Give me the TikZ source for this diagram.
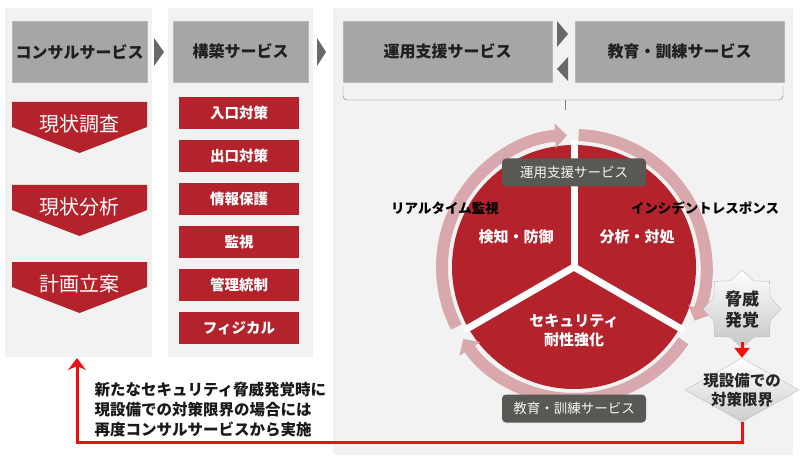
\documentclass[tikz,border=0pt]{standalone}
\usepackage{fontspec}
\setmainfont{Noto Sans CJK JP}
\usetikzlibrary{shapes.geometric,arrows.meta}

\definecolor{panelgray}{RGB}{242,242,242}
\definecolor{headgray}{RGB}{166,166,166}
\definecolor{stepgray}{RGB}{105,105,105}
\definecolor{secred}{RGB}{180,34,44}
\definecolor{ringpink}{RGB}{217,168,172}
\definecolor{darkbox}{RGB}{88,88,84}
\definecolor{alertred}{RGB}{240,16,16}

\begin{document}
\begin{tikzpicture}[x=1pt, y=-1pt,
    panel/.style={fill=panelgray, anchor=north west, inner sep=0pt},
    header/.style={fill=headgray, draw=gray!55, anchor=north west, minimum height=61,
        font=\fontsize{16}{18}\selectfont\bfseries, text=black!88},
    steptext/.style={text=white, font=\fontsize{20}{22}\selectfont},
    measure/.style={fill=secred, minimum width=120, minimum height=32, text=white,
        font=\fontsize{14.5}{16}\selectfont\bfseries},
    ring/.style={draw=ringpink, line width=12, -{Triangle[width=24pt,length=12pt]}},
    darklabel/.style={fill=darkbox, rounded corners=4, minimum width=144, minimum height=28,
        text=white!92!gray, font=\fontsize{13.5}{15}\selectfont},
    phase/.style={text=black, font=\fontsize{13.5}{15}\selectfont\bfseries},
    inner/.style={text=white, align=center, font=\fontsize{15}{19}\selectfont\bfseries},
    signtext/.style={text=black!85, align=center, font=\fontsize{15.5}{19}\selectfont\bfseries},
    alert/.style={draw=alertred, line width=3, -{Triangle[width=15pt,length=10pt]}},
    escalate/.style={draw=alertred, line width=3, -{Stealth[width=18pt,length=12pt,inset=4pt]}},
]
    \useasboundingbox (0,0) rectangle (800,465);

    % Panels
    \node[panel, minimum width=147, minimum height=349] (pconsult) at (5,8) {};
    \node[panel, minimum width=145, minimum height=349] (pbuild) at (168,8) {};
    \node[panel, minimum width=460, minimum height=447] (pops) at (333,8) {};

    % Service headers
    \node[header, minimum width=135] (consult) at (12,21) {コンサルサービス};
    \node[header, minimum width=135] (build) at (173,21) {構築サービス};
    \node[header, minimum width=209] (operate) at (343,21) {運用支援サービス};
    \node[header, minimum width=209] (educate) at (575,21) {教育・訓練サービス};

    % Step arrows
    \fill[stepgray] (154,38) -- (164,52) -- (154,66) -- cycle;
    \fill[stepgray] (317,38) -- (326,52) -- (317,66) -- cycle;
    \fill[stepgray] (557,21) -- (568,34) -- (557,47) -- cycle;
    \fill[stepgray] (568,57) -- (557,69) -- (568,81) -- cycle;

    % Brace
    \draw[gray, rounded corners=4] (343,86) |- (783,100) -- (783,86);
    \draw[gray] (565,100) -- (565,110);

    % Consulting steps
    \foreach \t/\txt/\nm in {102/現状調査/survey, 185/現状分析/analysis, 262/計画立案/plan}{
        \fill[secred] (12,\t) -- (147,\t) -- (147,\t+25) -- (79.5,\t+51) -- (12,\t+25) -- cycle;
        \node[steptext] (\nm) at (79.5,\t+22) {\txt};
    }

    % Build measures
    \foreach \y/\txt [count=\i] in {113/入口対策, 156/出口対策, 199/情報保護, 242/監視, 285/管理統制, 328/フィジカル}
        \node[measure] (m\i) at (239,\y) {\txt};

    % Cycle
    \coordinate (c) at (574,267);
    \fill[secred] (c) circle[radius=122];
    \foreach \a in {-90,30,150} \draw[white, line width=7] (c) -- ++(\a:127);
    \draw[ring] (c) ++(-207:132) arc[start angle=-207, end angle=-93, radius=132];
    \draw[ring] (c) ++(-88:132) arc[start angle=-88, end angle=24, radius=132];
    \draw[ring] (c) ++(34:132) arc[start angle=34, end angle=147, radius=132];

    % Cycle labels
    \node[darklabel] (opsbox) at (574,172.5) {運用支援サービス};
    \node[darklabel] (edubox) at (574,408.5) {教育・訓練サービス};
    \node[phase] (realtime) at (445,208) {リアルタイム監視};
    \node[phase] (incident) at (705,208) {インシデントレスポンス};
    \node[inner] (detect) at (516,237) {検知・防御};
    \node[inner] (respond) at (637,237) {分析・対処};
    \node[inner] (harden) at (574,331) {セキュリティ\\耐性強化};

    % Threat and limit
    \node[star, star points=8, star point ratio=1.28, minimum size=78, inner sep=0pt,
        draw=gray!50, top color=white, bottom color=gray!45,
        label={[signtext, font=\fontsize{17}{21}\selectfont\bfseries]center:{脅威\\発覚}}] (threat) at (742,309) {};
    \node[diamond, minimum width=114, minimum height=64, inner sep=0pt,
        draw=gray!50, top color=white, bottom color=gray!40,
        label={[signtext]center:{現設備での\\対策限界}}] (limit) at (742,390) {};
    \draw[alert, shorten <=-6pt] (threat.south) -- (limit.north);

    % Back to consulting
    \coordinate (turn) at (742,442);
    \coordinate (back) at (77,358);
    \draw[escalate] (limit.south) -- (turn) -| (back);
    \node[anchor=west, align=left, text=black!90, font=\fontsize{15.5}{20}\selectfont\bfseries]
        (note) at (91,410) {新たなセキュリティ脅威発覚時に\\現設備での対策限界の場合には\\再度コンサルサービスから実施};
\end{tikzpicture}
\end{document}
